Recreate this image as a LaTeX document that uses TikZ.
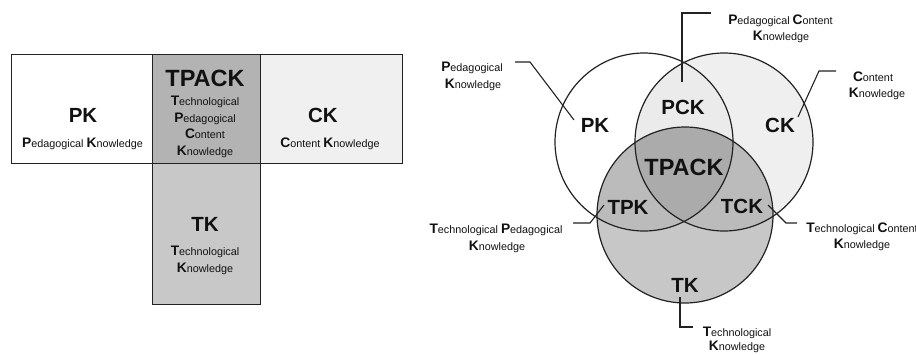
\documentclass[tikz,border=0pt]{standalone}
\usepackage{fontspec}
\setmainfont{Liberation Sans}
\newcommand\ini[1]{{\fontsize{13.8}{13.8}\selectfont\bfseries #1}}
\definecolor{txt}{HTML}{111111}
\definecolor{lightg}{HTML}{EFEFEF}
\definecolor{pckg}{HTML}{EBEBEB}
\definecolor{tkg}{HTML}{C7C7C7}
\definecolor{twog}{HTML}{BBBBBB}
\definecolor{tpackg}{HTML}{ABABAB}
\definecolor{tpackbox}{HTML}{B3B3B3}
\definecolor{tkbox}{HTML}{C8C8C8}
\definecolor{ckbox}{HTML}{F0F0F0}
\definecolor{edge}{HTML}{222222}
\begin{document}
\begin{tikzpicture}[x=1pt,y=-1pt,
  boxpart/.style={draw=edge,line width=1.4pt},
  bigl/.style={font=\fontsize{20.5}{20.5}\selectfont\bfseries,text=txt,anchor=base,inner sep=0pt},
  hugel/.style={font=\fontsize{23.5}{23.5}\selectfont\bfseries,text=txt,anchor=base,inner sep=0pt},
  smalll/.style={font=\fontsize{10.8}{10.8}\selectfont,text=txt,anchor=base,inner sep=0pt},
  ring/.style={draw=edge,line width=1.2pt},
  leader/.style={draw=edge,line width=1.1pt}]
\useasboundingbox (0,0) rectangle (916,354);

% ---------- left: boxes ----------
\node[boxpart,fill=white,minimum width=141pt,minimum height=109pt,inner sep=0pt,anchor=north west] (pkbox) at (11,54) {};
\node[boxpart,fill=tpackbox,minimum width=108pt,minimum height=109pt,inner sep=0pt,anchor=north west] (tpackbox) at (152,54) {};
\node[boxpart,fill=ckbox,minimum width=142pt,minimum height=109pt,inner sep=0pt,anchor=north west] (ckbox) at (260,54) {};
\node[boxpart,fill=tkbox,minimum width=108pt,minimum height=141pt,inner sep=0pt,anchor=north west] (tkbox) at (152,163) {};

\node[bigl] (bpk) at (83,122) {PK};
\node[smalll] (bpkt) at (82.5,147) {\ini{P}edagogical \ini{K}nowledge};
\node[hugel] (btpack) at (205,86.5) {TPACK};
\node[smalll] (bt1) at (205,105) {\ini{T}echnological};
\node[smalll] (bt2) at (205,122) {\ini{P}edagogical};
\node[smalll] (bt3) at (205,138) {\ini{C}ontent};
\node[smalll] (bt4) at (205,155) {\ini{K}nowledge};
\node[bigl] (bck) at (323,122) {CK};
\node[smalll] (bckt) at (330,147) {\ini{C}ontent \ini{K}nowledge};
\node[bigl] (btk) at (205,231) {TK};
\node[smalll] (btk1) at (205,255) {\ini{T}echnological};
\node[smalll] (btk2) at (205,272) {\ini{K}nowledge};

% ---------- right: Venn ----------
\coordinate (cP) at (644,142);
\coordinate (cC) at (724,142);
\coordinate (cT) at (685,215);
\def\R{89pt}
\fill[lightg] (cC) circle[radius=\R];
\begin{scope}
  \clip (cC) circle[radius=\R];
  \fill[pckg] (cP) circle[radius=\R];
\end{scope}
\fill[tkg] (cT) circle[radius=88pt];
\begin{scope}
  \clip (cT) circle[radius=88pt];
  \fill[twog] (cP) circle[radius=\R];
  \fill[twog] (cC) circle[radius=\R];
  \clip (cP) circle[radius=\R];
  \fill[tpackg] (cC) circle[radius=\R];
\end{scope}
\draw[ring] (cP) circle[radius=\R];
\draw[ring] (cC) circle[radius=\R];
\draw[ring] (cT) circle[radius=88pt];

\node[bigl] (vpk) at (595,132) {PK};
\node[bigl] (vpck) at (683,114) {PCK};
\node[bigl] (vck) at (780,132) {CK};
\node[hugel] (vtpack) at (684,175) {TPACK};
\node[bigl] (vtpk) at (628,214) {TPK};
\node[bigl] (vtck) at (742,213) {TCK};
\node[bigl] (vtk) at (685,292) {TK};

% labels
\node[smalll] (lpck1) at (780.5,24) {\ini{P}edagogical \ini{C}ontent};
\node[smalll] (lpck2) at (781,40) {\ini{K}nowledge};
\node[smalll] (lpk1) at (472,71) {\ini{P}edagogical};
\node[smalll] (lpk2) at (473,88) {\ini{K}nowledge};
\node[smalll] (lck1) at (873,81) {\ini{C}ontent};
\node[smalll] (lck2) at (877,97) {\ini{K}nowledge};
\node[smalll] (ltpk1) at (496,233) {\ini{T}echnological \ini{P}edagogical};
\node[smalll] (ltpk2) at (497,250) {\ini{K}nowledge};
\node[smalll] (ltck1) at (862,232) {\ini{T}echnological \ini{C}ontent};
\node[smalll] (ltck2) at (862,248) {\ini{K}nowledge};
\node[smalll] (ltk1) at (737,336) {\ini{T}echnological};
\node[smalll] (ltk2) at (737,350.5) {\ini{K}nowledge};

% leader lines
\coordinate (pckA) at (682,82); \coordinate (pckB) at (682,13); \coordinate (pckC) at (711,13);
\draw[leader] (pckA) -- (pckB) -- (pckC);
\coordinate (pkA) at (515,62); \coordinate (pkB) at (530,62); \coordinate (pkC) at (574,120);
\draw[leader] (pkA) -- (pkB) -- (pkC);
\coordinate (ckA) at (836,71); \coordinate (ckB) at (819,71); \coordinate (ckC) at (798,117);
\draw[leader] (ckA) -- (ckB) -- (ckC);
\coordinate (tpkA) at (604,205); \coordinate (tpkB) at (590,223); \coordinate (tpkC) at (573,223);
\draw[leader] (tpkA) -- (tpkB) -- (tpkC);
\coordinate (tckA) at (768,205); \coordinate (tckB) at (786,223); \coordinate (tckC) at (797,223);
\draw[leader] (tckA) -- (tckB) -- (tckC);
\coordinate (tkA) at (680,297); \coordinate (tkB) at (680,327); \coordinate (tkC) at (693,327);
\draw[leader] (tkA) -- (tkB) -- (tkC);
\end{tikzpicture}
\end{document}
